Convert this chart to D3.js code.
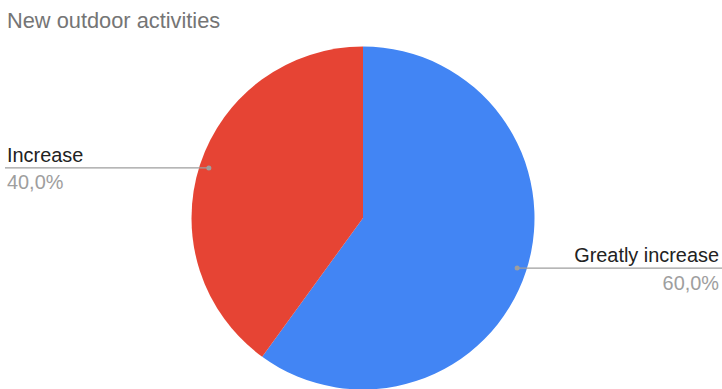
<!DOCTYPE html>
<html>
<head>
<meta charset="utf-8">
<script src="https://cdn.jsdelivr.net/npm/d3@7"></script>
<style>
  html, body { margin: 0; padding: 0; background: #fff; }
  svg { display: block; }
</style>
</head>
<body>
<script>
// Survey answers for new outdoor activities
const categories = ["Greatly increase", "Increase"];
const values = [60, 40];
const colors = ["#4285f4", "#e64434"];
const title = "New outdoor activities";

const W = 722, H = 389;
const cx = 363, cy = 218, R = 171.5;
const font = "'Liberation Sans', Arial, sans-serif";

const svg = d3.select("body").append("svg")
  .attr("width", W).attr("height", H);

svg.append("text")
  .attr("x", 7).attr("y", 27.5)
  .attr("font-family", font).attr("font-size", 21.8)
  .attr("fill", "#757575")
  .text(title);

const pie = d3.pie().sort(null).value(d => d.v);
const arcs = pie(categories.map((c, i) => ({ c, v: values[i], col: colors[i] })));
const total = d3.sum(values);
const arc = d3.arc().innerRadius(0).outerRadius(R);
const dotArc = d3.arc().innerRadius(R * 0.945).outerRadius(R * 0.945);

const g = svg.append("g").attr("transform", `translate(${cx},${cy})`);
g.selectAll("path").data(arcs).join("path")
  .attr("d", arc)
  .attr("fill", d => d.data.col);

const fmt = v => (v / total * 100).toFixed(1).replace(".", ",") + "%";

arcs.forEach(d => {
  const [px, py] = dotArc.centroid(d);
  const x0 = cx + px, y0 = cy + py;
  const right = x0 > cx;
  const xEnd = right ? W : 5;
  svg.append("line")
    .attr("x1", x0).attr("y1", y0).attr("x2", xEnd).attr("y2", y0)
    .attr("stroke", "#9e9e9e").attr("stroke-width", 1.3);
  svg.append("circle")
    .attr("cx", x0).attr("cy", y0).attr("r", 2.5)
    .attr("fill", "#9e9e9e");
  const tx = right ? W - 3 : 7;
  const anchor = right ? "end" : "start";
  svg.append("text")
    .attr("x", tx).attr("y", y0 - 6)
    .attr("text-anchor", anchor)
    .attr("font-family", font).attr("font-size", 19.9)
    .attr("fill", "#222")
    .text(d.data.c);
  svg.append("text")
    .attr("x", tx).attr("y", y0 + 21.5)
    .attr("text-anchor", anchor)
    .attr("font-family", font).attr("font-size", 19.9)
    .attr("fill", "#9e9e9e")
    .text(fmt(d.data.v));
});
</script>
</body>
</html>
